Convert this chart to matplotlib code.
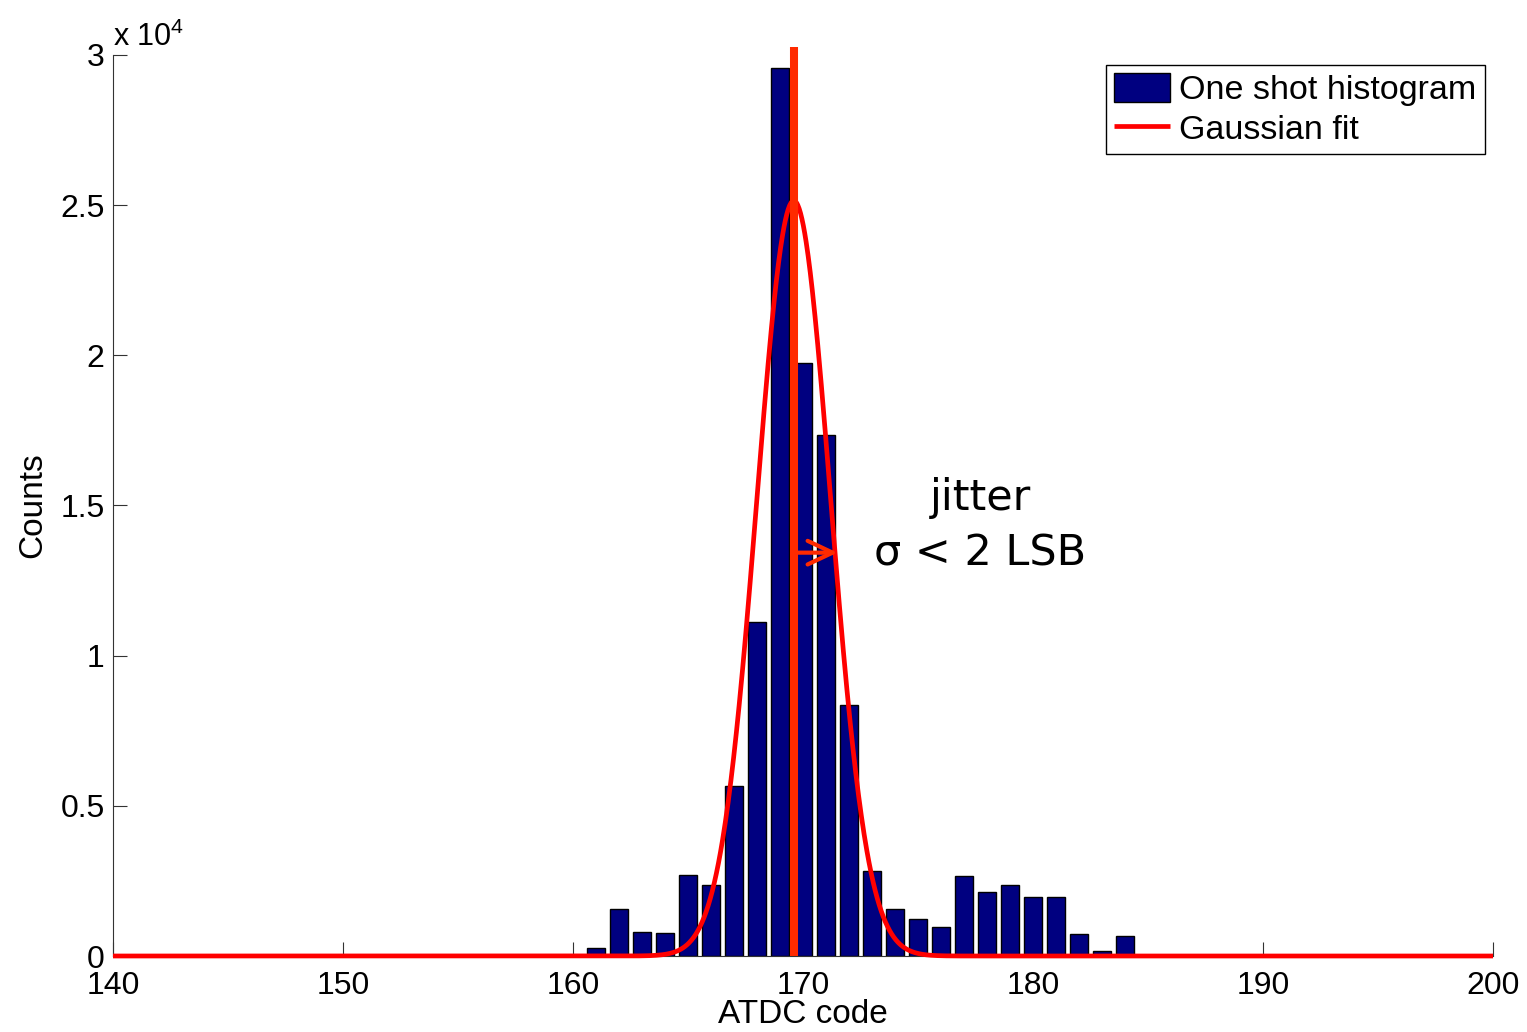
import numpy as np
import matplotlib
matplotlib.use("Agg")
import matplotlib.pyplot as plt

plt.rcParams["font.family"] = ["Liberation Sans", "DejaVu Sans"]
plt.rcParams["mathtext.fontset"] = "custom"
plt.rcParams["mathtext.rm"] = "Liberation Sans"

# ---- data ----
codes = [161, 162, 163, 164, 165, 166, 167, 168, 169, 170, 171, 172,
         173, 174, 175, 176, 177, 178, 179, 180, 181, 182, 183, 184]
counts = [270, 1570, 810, 780, 2700, 2380, 5670, 11120, 29580, 19740, 17350, 8360,
          2830, 1580, 1230, 980, 2680, 2130, 2380, 1970, 1970, 730, 170, 670]

# Gaussian fit parameters (amplitude, mean, sigma)
fit_amp = 25150
fit_mu = 169.6
fit_sigma = 1.6
fit_x_range = [140, 200]

mean_line_x = 169.6
mean_line_top = 30280
arrow_y = 13430
arrow_x0 = 169.75
arrow_x1 = 171.5

x_ticks = [140, 150, 160, 170, 180, 190, 200]
y_ticks = [0, 5000, 10000, 15000, 20000, 25000, 30000]
y_tick_labels = ["0", "0.5", "1", "1.5", "2", "2.5", "3"]

W, H = 1527, 1032
fig = plt.figure(figsize=(W / 100, H / 100), dpi=100)
ax = fig.add_axes([113 / W, (H - 956) / H, (1493 - 113) / W, (956 - 55) / H])

bars = ax.bar(codes, counts, width=0.8, color="#000080", edgecolor="black",
              linewidth=1.0, label="One shot histogram", zorder=2)

xs = np.linspace(fit_x_range[0], fit_x_range[1], 2000)
ys = fit_amp * np.exp(-(xs - fit_mu) ** 2 / (2 * fit_sigma ** 2))
fit_line, = ax.plot(xs, ys, color="#FF0000", lw=3.4, label="Gaussian fit",
                    zorder=3, clip_on=False, solid_capstyle="butt")

ax.plot([mean_line_x, mean_line_x], [0, mean_line_top], color="#FF2A00",
        lw=5.8, zorder=4, clip_on=False, solid_capstyle="butt")

ax.annotate("", xy=(arrow_x1, arrow_y), xytext=(arrow_x0, arrow_y),
            arrowprops=dict(arrowstyle="->,head_length=1.8,head_width=0.85",
                            color="#FF2A00", lw=3.0, mutation_scale=10,
                            shrinkA=0, shrinkB=0),
            zorder=5)

ax.text(177.7, 15250, "jitter", fontsize=31, family="DejaVu Sans",
        ha="center", va="center")
ax.text(177.7, 13400, "σ < 2 LSB", fontsize=31, family="DejaVu Sans",
        ha="center", va="center")

ax.set_xlim(140, 200)
ax.set_ylim(0, 30000)
ax.set_xticks(x_ticks)
ax.set_xticklabels([str(t) for t in x_ticks])
ax.set_yticks(y_ticks)
ax.set_yticklabels(y_tick_labels)

for s in ["top", "right"]:
    ax.spines[s].set_visible(False)
for s in ["left", "bottom"]:
    ax.spines[s].set_linewidth(0.8)
    ax.spines[s].set_color("#333333")

ax.tick_params(axis="both", direction="in", length=10, width=0.8,
               color="#333333", labelsize=23, labelcolor="black")
ax.tick_params(axis="x", pad=11)
ax.tick_params(axis="y", pad=6)

ax.text(0.0, 1.002, r"x 10$^{4}$", transform=ax.transAxes, fontsize=22,
        ha="left", va="bottom")

ax.set_xlabel("ATDC code", fontsize=24)
ax.set_ylabel("Counts", fontsize=24)
ax.xaxis.set_label_coords(0.5, -0.048)
ax.yaxis.set_label_coords(-0.047, 0.5)

leg = ax.legend([bars, fit_line], ["One shot histogram", "Gaussian fit"],
                loc="upper right", bbox_to_anchor=(0.994, 0.989),
                borderaxespad=0, fontsize=24.5, fancybox=False, framealpha=1,
                edgecolor="black", handlelength=1.65, handleheight=0.9,
                handletextpad=0.25, labelspacing=0.2, borderpad=0.25)
leg.get_frame().set_linewidth(1.0)

fig.savefig("out.png", dpi=100)
